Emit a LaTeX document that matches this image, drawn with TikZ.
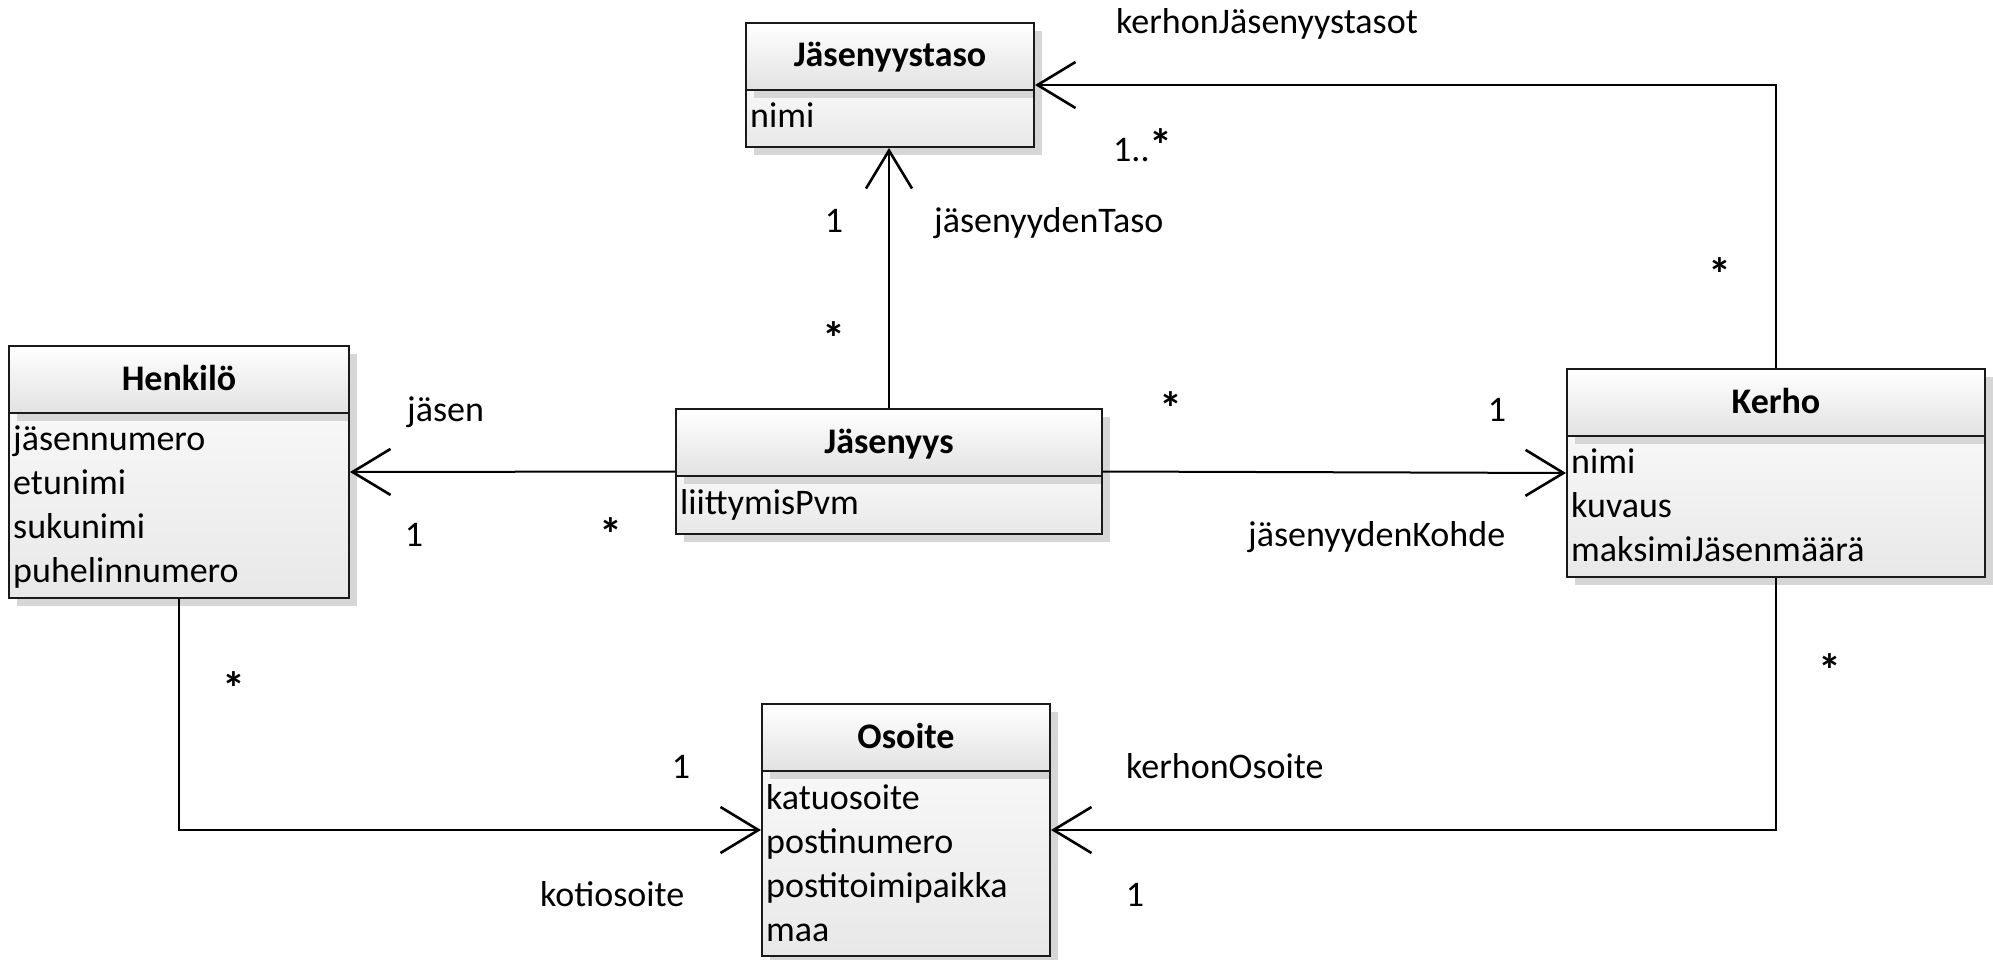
\documentclass[tikz,border=0pt]{standalone}
\usepackage{fontspec}
\setmainfont{Carlito}
\usetikzlibrary{arrows.meta,fit}
\definecolor{shadowcol}{HTML}{D6D6D6}
\definecolor{hdrcol}{HTML}{E2E2E2}
\definecolor{bodycol}{HTML}{E8E8E8}
\definecolor{linecol}{HTML}{1A1A1A}
\newcommand\bigast{{\fontsize{46}{46}\selectfont\bfseries *}}
\tikzset{
  every node/.style={font=\fontsize{36}{44}\selectfont, text=black},
  boxline/.style={draw=linecol, line width=2pt},
  attr/.style={anchor=base west, inner sep=0pt},
  lbl/.style={anchor=base, inner sep=0pt},
  lblw/.style={anchor=base west, inner sep=0pt},
  assoc/.style={draw=black, line width=2pt,
    -{Straight Barb[length=38pt,width=46pt,line width=2.6pt]}},
}
\newcommand\umlclass[7]{%
  \fill[shadowcol] ({#2+8},{#3+8}) rectangle ({#4+8},{#6+8});
  \shade[top color=white, bottom color=hdrcol] (#2,#3) rectangle (#4,#5);
  \shade[top color=white!97!black, bottom color=bodycol] (#2,#5) rectangle (#4,#6);
  \fill[shadowcol] ({#2+8},#5) rectangle ({#4+8},{#5+8});
  \draw[boxline] (#2,#5) -- (#4,#5);
  \node[fit={(#2,#3) (#4,#6)}, inner sep=0pt, boxline] (#1) {};
  \node[anchor=base, inner sep=0pt, font=\fontsize{36}{44}\selectfont\bfseries] (#1-title) at ({(#2+#4)/2},{#3+44}) {#7};
}
\begin{document}
\begin{tikzpicture}[x=1pt,y=-1pt]
\useasboundingbox (0,0) rectangle (1993,960);
\fill[white] (0,0) rectangle (1993,960);

% classes
\umlclass{jtaso}{746}{23}{1034}{90}{147}{Jäsenyystaso}
\node[attr] (jtaso-a1) at (750,128) {nimi};

\umlclass{henk}{9}{346}{349}{413}{598}{Henkilö}
\node[attr] (henk-a1) at (13,450) {jäsennumero};
\node[attr] (henk-a2) at (13,494) {etunimi};
\node[attr] (henk-a3) at (13,538) {sukunimi};
\node[attr] (henk-a4) at (13,582) {puhelinnumero};

\umlclass{jys}{676}{409}{1102}{476}{534}{Jäsenyys}
\node[attr] (jys-a1) at (680,514) {liittymisPvm};

\umlclass{kerho}{1567}{369}{1985}{436}{577}{Kerho}
\node[attr] (kerho-a1) at (1571,473) {nimi};
\node[attr] (kerho-a2) at (1571,517) {kuvaus};
\node[attr] (kerho-a3) at (1571,561) {maksimiJäsenmäärä};

\umlclass{os}{762}{704}{1050}{771}{956}{Osoite}
\node[attr] (os-a1) at (766,809) {katuosoite};
\node[attr] (os-a2) at (766,853) {postinumero};
\node[attr] (os-a3) at (766,897) {postitoimipaikka};
\node[attr] (os-a4) at (766,941) {maa};

% associations
\draw[assoc] (jys.north) -- (jys.north |- jtaso.south);
\draw[assoc] (jys.west) -- (henk.east);
\draw[assoc] (jys.east) -- (kerho.west);
\draw[assoc] (kerho.north) |- (jtaso.east);
\draw[assoc] (henk.south) |- (os.west);
\draw[assoc] (kerho.south) |- (os.east);

% labels
\node[lbl] (l1) at (1267,34) {kerhonJäsenyystasot};
\node[lblw] (l2) at (1113,162) {1..\bigast};
\node[lbl] (l3) at (834,233) {1};
\node[lblw] (l4) at (934,233) {jäsenyydenTaso};
\node[lbl] (l5) at (834,354) {\bigast};
\node[lblw] (l6) at (407,421) {jäsen};
\node[lbl] (l7) at (414,546) {1};
\node[lbl] (l8) at (611,550) {\bigast};
\node[lbl] (l9) at (1171,424) {\bigast};
\node[lbl] (l10) at (1497,421) {1};
\node[lblw] (l11) at (1248,546) {jäsenyydenKohde};
\node[lbl] (l12) at (1720,290) {\bigast};
\node[lbl] (l13) at (234,704) {\bigast};
\node[lbl] (l14) at (681,778) {1};
\node[lblw] (l15) at (1126,778) {kerhonOsoite};
\node[lblw] (l16) at (540,906) {kotiosoite};
\node[lbl] (l17) at (1135,906) {1};
\node[lbl] (l18) at (1830,686) {\bigast};
\end{tikzpicture}
\end{document}
